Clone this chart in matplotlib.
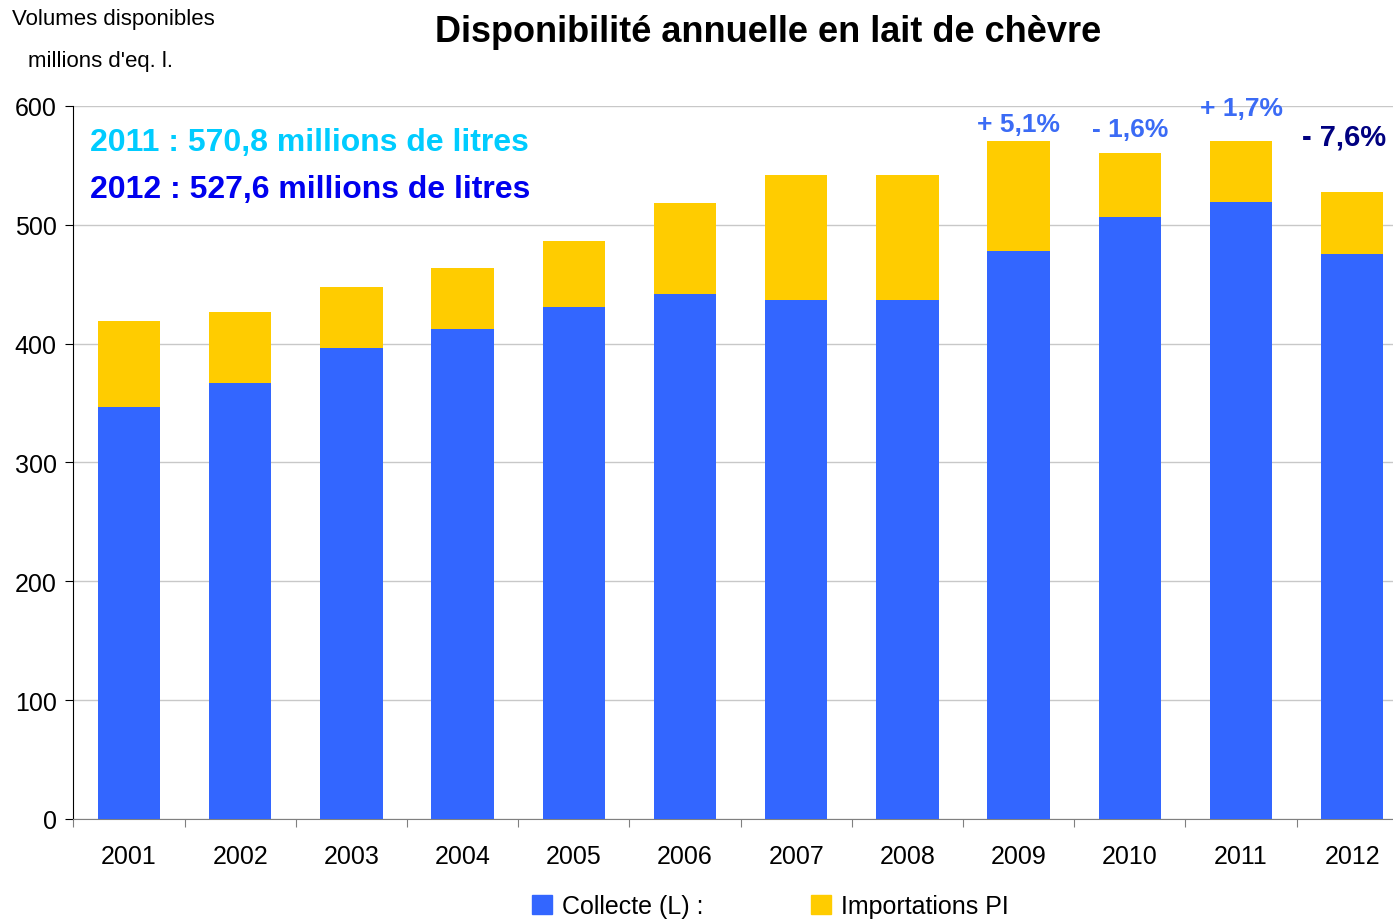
import numpy as np
import matplotlib.pyplot as plt
from matplotlib.patches import Patch

plt.rcParams['font.family'] = ['Liberation Sans', 'DejaVu Sans']

years = ['2001', '2002', '2003', '2004', '2005', '2006',
         '2007', '2008', '2009', '2010', '2011', '2012']
collecte = [347, 367, 396.5, 412.5, 431, 442, 437, 437, 478, 506.5, 519.5, 475.5]
totals = [419, 427, 448, 464, 486.5, 518, 542, 542, 570.7, 560.8, 570.8, 527.6]
imports = [t - c for t, c in zip(totals, collecte)]

pct_labels = ['+ 5,1%', '- 1,6%', '+ 1,7%', '- 7,6%']
pct_x = [8, 9, 10, 10.93]
pct_y = [585, 581, 598, 574]
pct_colors = ['#3B6BF5', '#3B6BF5', '#3B6BF5', '#000080']

blue = '#3366FF'
yellow = '#FFCC00'

fig = plt.figure(figsize=(13.93, 9.2), dpi=100)
ax = fig.add_axes([73.4 / 1393, 1 - 820 / 920, 1 - 73.4 / 1393, (820 - 107) / 920])

ind = np.arange(len(years))
width = 0.56
ax.bar(ind, collecte, width, color=blue, zorder=3)
ax.bar(ind, imports, width, bottom=collecte, color=yellow, zorder=3)

ax.set_xlim(-0.5, (1393 - 73.4) / 111.2 - 0.5)
ax.set_ylim(0, 600)
ax.set_yticks(range(0, 601, 100))
ax.yaxis.grid(True, color='#c8c8c8', linewidth=1, zorder=0)

# category ticks sit between bars
ax.set_xticks(ind - 0.5, minor=False)
ax.set_xticklabels([])
ax.set_xticks(ind, minor=True)
ax.set_xticklabels(years, minor=True, fontsize=18)
ax.tick_params(axis='x', which='minor', length=0, pad=18)
ax.tick_params(axis='x', which='major', length=6, color='#808080', direction='out')
ax.tick_params(axis='y', labelsize=18, length=6, direction='out', pad=6)

for s in ['top', 'right']:
    ax.spines[s].set_visible(False)
ax.spines['bottom'].set_color('#808080')
ax.spines['left'].set_color('black')

for x, lab, y, c in zip(pct_x, pct_labels, pct_y, pct_colors):
    ax.text(x, y, lab, ha='center', va='center', fontsize=19 if c != '#000080' else 21,
            fontweight='bold', color=c)

ax.text(-0.35, 570, '2011 : 570,8 millions de litres', color='#00CCFF', fontsize=23,
        fontweight='bold', va='center', ha='left')
ax.text(-0.35, 530, '2012 : 527,6 millions de litres', color='#0000EE', fontsize=23,
        fontweight='bold', va='center', ha='left')

fig.text(768 / 1393, 1 - 32 / 920, 'Disponibilité annuelle en lait de chèvre',
         ha='center', va='center', fontsize=26, fontweight='bold')
fig.text(12 / 1393, 1 - 20 / 920, 'Volumes disponibles', fontsize=16, va='center')
fig.text(28 / 1393, 1 - 62 / 920, "millions d'eq. l.", fontsize=16, va='center')

handles = [Patch(color=blue), Patch(color=yellow)]
fig.legend(handles, ['Collecte (L) :', 'Importations PI'], loc='center',
           bbox_to_anchor=(770 / 1393, 1 - 907 / 920), ncol=2, frameon=False,
           fontsize=18, handlelength=0.8, handleheight=0.8, handletextpad=0.4,
           columnspacing=4.3)

plt.savefig('out.png', dpi=100)
